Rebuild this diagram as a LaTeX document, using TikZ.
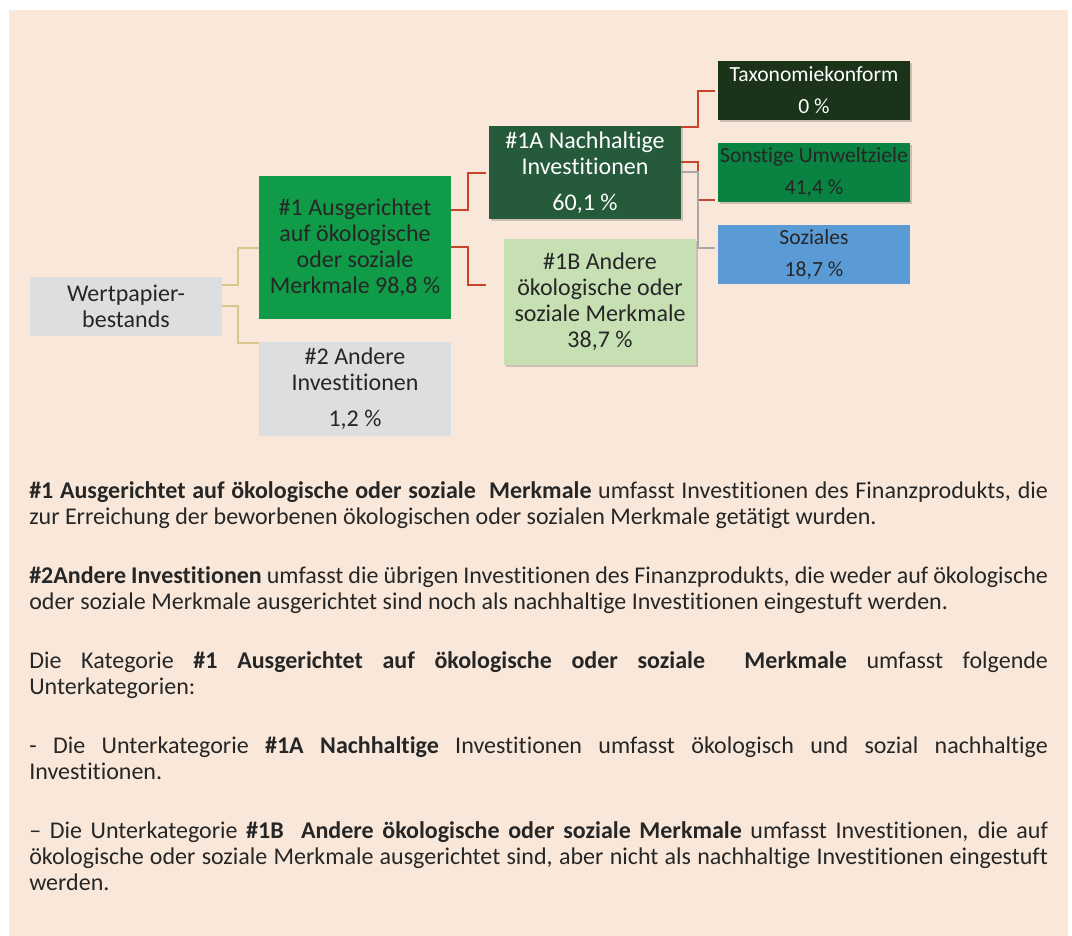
\documentclass[tikz,border=0pt]{standalone}
\usepackage{fontspec}
\setmainfont{Carlito}[Ligatures=NoCommon]
\usetikzlibrary{shadows}
\definecolor{bgPeach}{HTML}{F9E8DA}
\definecolor{boxGray}{HTML}{DDDEE0}
\definecolor{grnMid}{HTML}{109B48}
\definecolor{grnDark}{HTML}{255A3B}
\definecolor{grnLight}{HTML}{C6E0B4}
\definecolor{grnDeep}{HTML}{1A3319}
\definecolor{grnEnv}{HTML}{0A8241}
\definecolor{bluSoc}{HTML}{5B9BD5}
\definecolor{lnkRed}{HTML}{C8452B}
\definecolor{lnkBeige}{HTML}{D8C68E}
\definecolor{lnkGray}{HTML}{A8A8A8}
\definecolor{txtDark}{HTML}{262626}
\newcommand{\esgblk}[7]{%
  \pgfmathsetmacro{\esgcx}{(#1+#3)/2}%
  \pgfmathsetmacro{\esgcy}{(#2+#4)/2}%
  \pgfmathsetmacro{\esgw}{(#3-#1)*0.75}%
  \pgfmathsetmacro{\esgh}{(#4-#2)*0.75}%
  \node[blk, minimum width=\esgw pt, minimum height=\esgh pt, #7] (#5) at (\esgcx,\esgcy) {#6};}

\begin{document}
\begin{tikzpicture}[x=0.75pt, y=-0.75pt,
  blk/.style={inner sep=0pt, align=center, text=txtDark, font=\fontsize{18}{19.5}\selectfont},
  sml/.style={font=\fontsize{16.2}{19.5}\selectfont},
  shd/.style={drop shadow={shadow xshift=1.5pt, shadow yshift=-1.5pt, opacity=0.18, fill=black}},
  lnk/.style={line width=1.5pt, draw=lnkRed},
  txt/.style={anchor=north west, inner sep=0pt, text width=764pt, align=justify,
              text=txtDark, font=\fontsize{18}{19.5}\selectfont}]
\useasboundingbox (0,0) rectangle (1072,936);
\fill[bgPeach] (9,10) rectangle (1068,936);
% boxes
\esgblk{30}{277}{222}{336}{wp}{Wertpapier-\\bestands}{fill=boxGray}
\esgblk{259}{176}{451}{319}{g1}{\#1 Ausgerichtet\\auf ökologische\\oder soziale\\Merkmale 98,8 \%}{fill=grnMid}
\esgblk{259}{342}{451}{436}{g2}{\#2 Andere\\Investitionen\\[7.5pt]1,2 \%}{fill=boxGray}
\esgblk{489}{126}{681}{219}{a1}{\#1A Nachhaltige\\Investitionen\\[7.5pt]60,1 \%}{fill=grnDark, text=white, shd}
\esgblk{504}{239}{696}{365}{b1}{\#1B Andere\\ökologische oder\\soziale Merkmale\\38,7 \%}{fill=grnLight, shd}
\esgblk{718}{61}{910}{120}{tx}{Taxonomiekonform\\[4.5pt]0 \%}{fill=grnDeep, text=white, sml, shd}
\esgblk{718}{143}{910}{202}{so}{Sonstige Umweltziele\\[4pt]41,4 \%}{fill=grnEnv, sml, shd}
\esgblk{718}{225}{910}{284}{sz}{Soziales\\[4.5pt]18,7 \%}{fill=bluSoc, sml}
% links
\draw[lnk, draw=lnkBeige] (wp.east |- 0,285) -- ++(16,0) |- (g1.west);
\draw[lnk, draw=lnkBeige] (wp.east |- 0,306) -- ++(16,0) |- (g2.west |- 0,343);
\draw[lnk, shorten >=2pt] (g1.east |- 0,210) -- ++(17,0) |- (a1.west);
\coordinate (b1stub) at (486,285);
\draw[lnk] (g1.east |- 0,247) -- ++(17,0) |- (b1stub);
\draw[lnk, shorten >=2pt] (a1.east |- 0,127) -- ++(17,0) |- (tx.west);
\draw[lnk, shorten >=2pt] (a1.east |- 0,162) -- ++(17,0) |- (so.west |- 0,200);
\draw[lnk, draw=lnkGray, line width=1.2pt, shorten >=2pt] (a1.east |- 0,172) -- ++(17,0) |- (sz.west |- 0,248);
% explanations
\node[txt] (p1) at (29,481) {\textbf{\#1 Ausgerichtet auf ökologische oder soziale\ \ Merkmale} umfasst Investitionen des Finanzprodukts, die\linebreak zur Erreichung der beworbenen ökologischen oder sozialen Merkmale getätigt wurden.};
\node[txt] (p2) at (29,566) {\textbf{\#2Andere Investitionen} umfasst die übrigen Investitionen des Finanzprodukts, die weder auf ökologische\linebreak oder soziale Merkmale ausgerichtet sind noch als nachhaltige Investitionen eingestuft werden.};
\node[txt] (p3) at (29,651) {Die Kategorie \textbf{\#1 Ausgerichtet auf ökologische oder soziale\ \ Merkmale} umfasst folgende\linebreak Unterkategorien:};
\node[txt] (p4) at (29,736) {- Die Unterkategorie \textbf{\#1A Nachhaltige} Investitionen umfasst ökologisch und sozial nachhaltige\linebreak Investitionen.};
\node[txt] (p5) at (29,821) {– Die Unterkategorie \textbf{\#1B\ \ Andere ökologische oder soziale Merkmale} umfasst Investitionen, die auf\linebreak ökologische oder soziale Merkmale ausgerichtet sind, aber nicht als nachhaltige Investitionen eingestuft\linebreak werden.};
\end{tikzpicture}
\end{document}
